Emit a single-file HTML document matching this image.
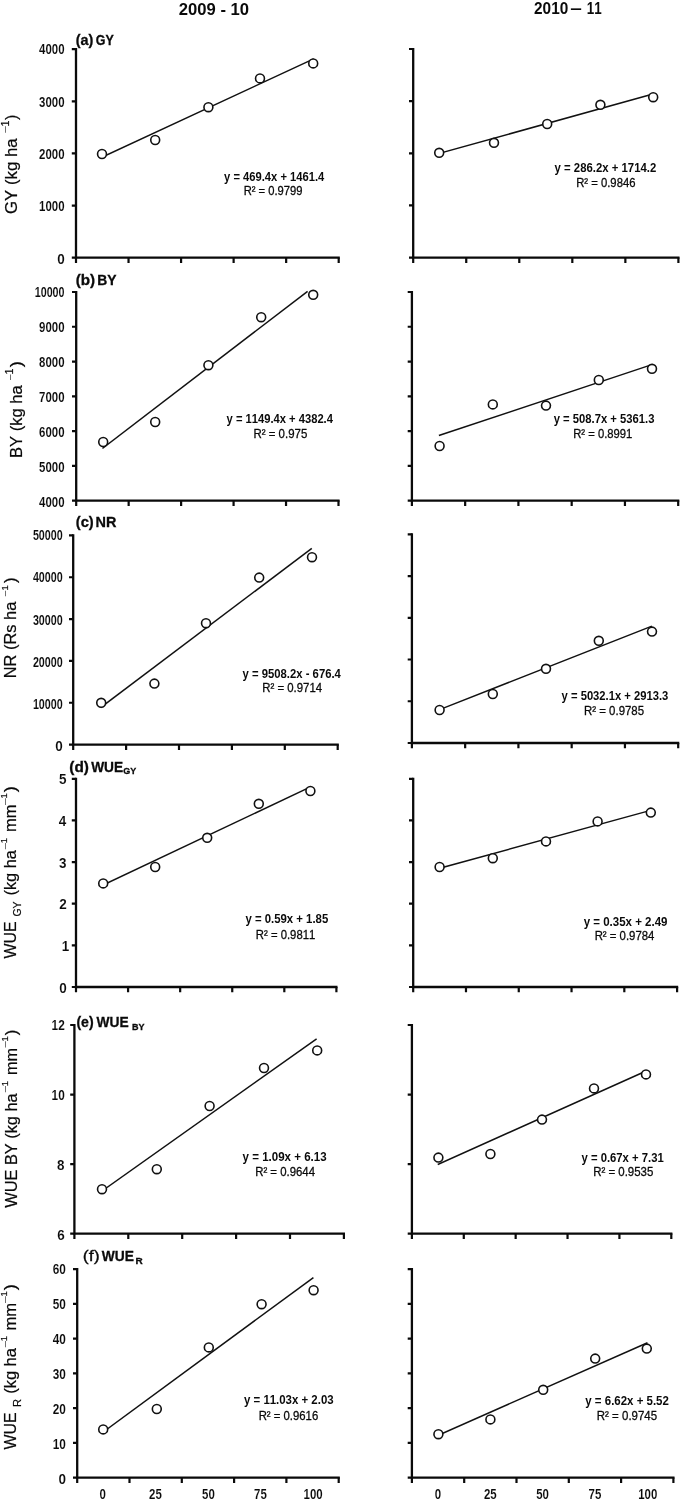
<!DOCTYPE html>
<html lang="en"><head><meta charset="utf-8"><title>Regression of yield and water use efficiency, 2009-10 and 2010-11</title>
<style>html,body{margin:0;padding:0;background:#fff}svg{display:block;filter:blur(0.45px)}text{font-family:"Liberation Sans", Arial, sans-serif;fill:#0a0a0a;font-kerning:none}.ax{stroke:#0a0a0a;stroke-width:2.3;fill:none}.tk{stroke:#0a0a0a;stroke-width:2.2;fill:none}.rl{stroke:#111;stroke-width:1.5;fill:none;stroke-linecap:square}.pt{stroke:#111;stroke-width:1.6;fill:#fff}.tl{font-size:14.2px;font-weight:700;stroke:#fff;stroke-width:0.1px}.e1{font-size:13px;font-weight:700}.e2{font-size:13px;font-weight:400;stroke:#0a0a0a;stroke-width:0.3px}.pl{font-size:14px;font-weight:700;stroke:#0a0a0a;stroke-width:0.3px}.yl{font-weight:400;stroke:#0a0a0a;stroke-width:0.2px}.hd{font-size:16.5px;font-weight:700}</style></head><body>
<svg width="680" height="1499" viewBox="0 0 680 1499">
<rect width="680" height="1499" fill="#fff"/>
<text class="hd" x="178.82" y="14.7" textLength="70.27" lengthAdjust="spacingAndGlyphs">2009 - 10</text>
<text class="hd"><tspan x="534.06" y="14.2" textLength="34.17" lengthAdjust="spacingAndGlyphs">2010</tspan> <tspan x="570.38" y="14.2" textLength="11.57" lengthAdjust="spacingAndGlyphs">–</tspan> <tspan x="586.76" y="14.2" textLength="14.92" lengthAdjust="spacingAndGlyphs">11</tspan></text>
<g>
<path class="ax" d="M76 48.1 V257.7 H339.8"/>
<path class="tk" d="M71.8 257.7H76M71.8 205.57H76M71.8 153.45H76M71.8 101.32H76M71.8 49.2H76M76 257.7V263M128.54 257.7V263M181.08 257.7V263M233.62 257.7V263M286.16 257.7V263M338.7 257.7V263"/>
<text class="tl" x="57.15" y="263.85" textLength="7.5" lengthAdjust="spacingAndGlyphs">0</text>
<text class="tl" x="39.11" y="211.42" textLength="25.46" lengthAdjust="spacingAndGlyphs">1000</text>
<text class="tl" x="39.11" y="159" textLength="25.46" lengthAdjust="spacingAndGlyphs">2000</text>
<text class="tl" x="39.11" y="106.57" textLength="25.46" lengthAdjust="spacingAndGlyphs">3000</text>
<text class="tl" x="39.11" y="54.15" textLength="25.46" lengthAdjust="spacingAndGlyphs">4000</text>
<path class="rl" d="M102.5 157L313 59.2"/>
<circle class="pt" cx="102" cy="154" r="4.45"/>
<circle class="pt" cx="155.2" cy="140" r="4.45"/>
<circle class="pt" cx="208.4" cy="107.2" r="4.45"/>
<circle class="pt" cx="260" cy="78.4" r="4.45"/>
<circle class="pt" cx="313.2" cy="63.4" r="4.45"/>
<text class="e1" x="224.12" y="180.5" textLength="100.15" lengthAdjust="spacingAndGlyphs">y = 469.4x + 1461.4</text>
<text class="e2" x="243.68" y="195.2" textLength="58.84" lengthAdjust="spacingAndGlyphs">R² = 0.9799</text>
</g>
<g>
<path class="ax" d="M413.2 47.9 V257.6 H679.5"/>
<path class="tk" d="M409 257.6H413.2M409 205.45H413.2M409 153.3H413.2M409 101.15H413.2M409 49H413.2M413.2 257.6V262.9M466.24 257.6V262.9M519.28 257.6V262.9M572.32 257.6V262.9M625.36 257.6V262.9M678.4 257.6V262.9"/>
<path class="rl" d="M439.2 153.4L653.2 94"/>
<circle class="pt" cx="439.2" cy="152.8" r="4.45"/>
<circle class="pt" cx="494" cy="142.8" r="4.45"/>
<circle class="pt" cx="547.2" cy="124" r="4.45"/>
<circle class="pt" cx="600.4" cy="104.8" r="4.45"/>
<circle class="pt" cx="653.2" cy="97.2" r="4.45"/>
<text class="e1" x="554.61" y="171.5" textLength="101.65" lengthAdjust="spacingAndGlyphs">y = 286.2x + 1714.2</text>
<text class="e2" x="576.17" y="186.7" textLength="59.32" lengthAdjust="spacingAndGlyphs">R² = 0.9846</text>
</g>
<g>
<path class="ax" d="M76.2 290.9 V500.6 H339.6"/>
<path class="tk" d="M72 500.6H76.2M72 465.83H76.2M72 431.07H76.2M72 396.3H76.2M72 361.53H76.2M72 326.77H76.2M72 292H76.2M76.2 500.6V505.9M128.66 500.6V505.9M181.12 500.6V505.9M233.58 500.6V505.9M286.04 500.6V505.9M338.5 500.6V505.9"/>
<text class="tl" x="39.11" y="506.75" textLength="25.46" lengthAdjust="spacingAndGlyphs">4000</text>
<text class="tl" x="39.11" y="471.78" textLength="25.46" lengthAdjust="spacingAndGlyphs">5000</text>
<text class="tl" x="39.11" y="436.82" textLength="25.46" lengthAdjust="spacingAndGlyphs">6000</text>
<text class="tl" x="39.11" y="401.85" textLength="25.46" lengthAdjust="spacingAndGlyphs">7000</text>
<text class="tl" x="39.11" y="366.88" textLength="25.46" lengthAdjust="spacingAndGlyphs">8000</text>
<text class="tl" x="39.11" y="331.92" textLength="25.46" lengthAdjust="spacingAndGlyphs">9000</text>
<text class="tl" x="34.69" y="296.95" textLength="29.85" lengthAdjust="spacingAndGlyphs">10000</text>
<path class="rl" d="M103 448L307 291.8"/>
<circle class="pt" cx="103.2" cy="442" r="4.45"/>
<circle class="pt" cx="155.2" cy="422" r="4.45"/>
<circle class="pt" cx="208.4" cy="365.2" r="4.45"/>
<circle class="pt" cx="261.2" cy="317.2" r="4.45"/>
<circle class="pt" cx="313.2" cy="294.8" r="4.45"/>
<text class="e1" x="226.62" y="422.6" textLength="106.35" lengthAdjust="spacingAndGlyphs">y = 1149.4x + 4382.4</text>
<text class="e2" x="253.45" y="437.9" textLength="53.82" lengthAdjust="spacingAndGlyphs">R² = 0.975</text>
</g>
<g>
<path class="ax" d="M411.9 290.9 V500.6 H679.3"/>
<path class="tk" d="M407.7 500.6H411.9M407.7 465.83H411.9M407.7 431.07H411.9M407.7 396.3H411.9M407.7 361.53H411.9M407.7 326.77H411.9M407.7 292H411.9M411.9 500.6V505.9M465.16 500.6V505.9M518.42 500.6V505.9M571.68 500.6V505.9M624.94 500.6V505.9M678.2 500.6V505.9"/>
<path class="rl" d="M439.6 435.3L652 364.6"/>
<circle class="pt" cx="439.6" cy="446" r="4.45"/>
<circle class="pt" cx="492.8" cy="404.4" r="4.45"/>
<circle class="pt" cx="546" cy="405.6" r="4.45"/>
<circle class="pt" cx="598.8" cy="380" r="4.45"/>
<circle class="pt" cx="652" cy="368.8" r="4.45"/>
<text class="e1" x="553.72" y="422.9" textLength="100.69" lengthAdjust="spacingAndGlyphs">y = 508.7x + 5361.3</text>
<text class="e2" x="573.17" y="437.9" textLength="59.18" lengthAdjust="spacingAndGlyphs">R² = 0.8991</text>
</g>
<g>
<path class="ax" d="M73.2 534.3 V744.6 H338.8"/>
<path class="tk" d="M69 744.6H73.2M69 702.76H73.2M69 660.92H73.2M69 619.08H73.2M69 577.24H73.2M69 535.4H73.2M73.2 744.6V749.9M126.1 744.6V749.9M179 744.6V749.9M231.9 744.6V749.9M284.8 744.6V749.9M337.7 744.6V749.9"/>
<text class="tl" x="55.35" y="750.75" textLength="7.5" lengthAdjust="spacingAndGlyphs">0</text>
<text class="tl" x="32.89" y="708.67" textLength="29.85" lengthAdjust="spacingAndGlyphs">10000</text>
<text class="tl" x="32.89" y="666.59" textLength="29.85" lengthAdjust="spacingAndGlyphs">20000</text>
<text class="tl" x="32.89" y="624.51" textLength="29.85" lengthAdjust="spacingAndGlyphs">30000</text>
<text class="tl" x="32.89" y="582.43" textLength="29.85" lengthAdjust="spacingAndGlyphs">40000</text>
<text class="tl" x="32.89" y="540.35" textLength="29.85" lengthAdjust="spacingAndGlyphs">50000</text>
<path class="rl" d="M101.2 707.2L311.2 548.8"/>
<circle class="pt" cx="101.2" cy="702.8" r="4.45"/>
<circle class="pt" cx="154.4" cy="683.6" r="4.45"/>
<circle class="pt" cx="206" cy="623.2" r="4.45"/>
<circle class="pt" cx="259.2" cy="577.6" r="4.45"/>
<circle class="pt" cx="312" cy="557.2" r="4.45"/>
<text class="e1" x="242.62" y="677.6" textLength="98.25" lengthAdjust="spacingAndGlyphs">y = 9508.2x - 676.4</text>
<text class="e2" x="262.26" y="692.4" textLength="59.87" lengthAdjust="spacingAndGlyphs">R² = 0.9714</text>
</g>
<g>
<path class="ax" d="M411.9 533.2 V743 H679.3"/>
<path class="tk" d="M407.7 743H411.9M407.7 701.26H411.9M407.7 659.52H411.9M407.7 617.78H411.9M407.7 576.04H411.9M407.7 534.3H411.9M411.9 743V748.3M465.16 743V748.3M518.42 743V748.3M571.68 743V748.3M624.94 743V748.3M678.2 743V748.3"/>
<path class="rl" d="M439.6 709.6L651.2 626.4"/>
<circle class="pt" cx="439.6" cy="710" r="4.45"/>
<circle class="pt" cx="492.8" cy="694" r="4.45"/>
<circle class="pt" cx="546" cy="668.8" r="4.45"/>
<circle class="pt" cx="598.8" cy="640.8" r="4.45"/>
<circle class="pt" cx="652" cy="631.6" r="4.45"/>
<text class="e1" x="561.62" y="700.3" textLength="106.69" lengthAdjust="spacingAndGlyphs">y = 5032.1x + 2913.3</text>
<text class="e2" x="584.06" y="714.9" textLength="60.01" lengthAdjust="spacingAndGlyphs">R² = 0.9785</text>
</g>
<g>
<path class="ax" d="M76 777.7 V987 H337.5"/>
<path class="tk" d="M71.8 987H76M71.8 945.36H76M71.8 903.72H76M71.8 862.08H76M71.8 820.44H76M71.8 778.8H76M76 987V992.3M128.08 987V992.3M180.16 987V992.3M232.24 987V992.3M284.32 987V992.3M336.4 987V992.3"/>
<text class="tl" x="59.15" y="993.15" textLength="7.5" lengthAdjust="spacingAndGlyphs">0</text>
<text class="tl" x="61.72" y="951.27" textLength="7.5" lengthAdjust="spacingAndGlyphs">1</text>
<text class="tl" x="59.15" y="909.39" textLength="7.5" lengthAdjust="spacingAndGlyphs">2</text>
<text class="tl" x="59.09" y="867.51" textLength="7.5" lengthAdjust="spacingAndGlyphs">3</text>
<text class="tl" x="58.68" y="825.63" textLength="7.5" lengthAdjust="spacingAndGlyphs">4</text>
<text class="tl" x="58.98" y="783.75" textLength="7.5" lengthAdjust="spacingAndGlyphs">5</text>
<path class="rl" d="M103.2 885L310.4 787"/>
<circle class="pt" cx="103.2" cy="883.4" r="4.45"/>
<circle class="pt" cx="155.2" cy="867" r="4.45"/>
<circle class="pt" cx="207.2" cy="837.8" r="4.45"/>
<circle class="pt" cx="258.8" cy="803.8" r="4.45"/>
<circle class="pt" cx="310.4" cy="791" r="4.45"/>
<text class="e1" x="245.41" y="922.9" textLength="82.81" lengthAdjust="spacingAndGlyphs">y = 0.59x + 1.85</text>
<text class="e2" x="255.87" y="938.5" textLength="59.38" lengthAdjust="spacingAndGlyphs">R² = 0.9811</text>
</g>
<g>
<path class="ax" d="M413.2 777.7 V987 H678.2"/>
<path class="tk" d="M409 987H413.2M409 945.36H413.2M409 903.72H413.2M409 862.08H413.2M409 820.44H413.2M409 778.8H413.2M413.2 987V992.3M465.98 987V992.3M518.76 987V992.3M571.54 987V992.3M624.32 987V992.3M677.1 987V992.3"/>
<path class="rl" d="M439.6 868.3L650.8 810.3"/>
<circle class="pt" cx="439.6" cy="867" r="4.45"/>
<circle class="pt" cx="492.8" cy="858.2" r="4.45"/>
<circle class="pt" cx="546" cy="841.4" r="4.45"/>
<circle class="pt" cx="597.6" cy="821.4" r="4.45"/>
<circle class="pt" cx="650.8" cy="812.6" r="4.45"/>
<text class="e1" x="583.71" y="925.6" textLength="83.8" lengthAdjust="spacingAndGlyphs">y = 0.35x + 2.49</text>
<text class="e2" x="594.66" y="940" textLength="59.76" lengthAdjust="spacingAndGlyphs">R² = 0.9784</text>
</g>
<g>
<path class="ax" d="M74.4 1023.9 V1233.6 H345"/>
<path class="tk" d="M70.2 1233.6H74.4M70.2 1164.07H74.4M70.2 1094.53H74.4M70.2 1025H74.4M74.4 1233.6V1238.9M128.3 1233.6V1238.9M182.2 1233.6V1238.9M236.1 1233.6V1238.9M290 1233.6V1238.9M343.9 1233.6V1238.9"/>
<text class="tl" x="57.19" y="1239.75" textLength="7.5" lengthAdjust="spacingAndGlyphs">6</text>
<text class="tl" x="57.12" y="1169.82" textLength="7.5" lengthAdjust="spacingAndGlyphs">8</text>
<text class="tl" x="51.58" y="1099.88" textLength="13.11" lengthAdjust="spacingAndGlyphs">10</text>
<text class="tl" x="51.58" y="1029.95" textLength="13.11" lengthAdjust="spacingAndGlyphs">12</text>
<path class="rl" d="M102 1191L316 1039.2"/>
<circle class="pt" cx="102" cy="1189.2" r="4.45"/>
<circle class="pt" cx="156.8" cy="1169.2" r="4.45"/>
<circle class="pt" cx="209.6" cy="1106" r="4.45"/>
<circle class="pt" cx="264" cy="1068" r="4.45"/>
<circle class="pt" cx="317.2" cy="1050.4" r="4.45"/>
<text class="e1" x="242.61" y="1161.2" textLength="84" lengthAdjust="spacingAndGlyphs">y = 1.09x + 6.13</text>
<text class="e2" x="255.16" y="1176.2" textLength="59.87" lengthAdjust="spacingAndGlyphs">R² = 0.9644</text>
</g>
<g>
<path class="ax" d="M411.9 1023.9 V1233.6 H672.4"/>
<path class="tk" d="M407.7 1233.6H411.9M407.7 1164.07H411.9M407.7 1094.53H411.9M407.7 1025H411.9M411.9 1233.6V1238.9M463.78 1233.6V1238.9M515.66 1233.6V1238.9M567.54 1233.6V1238.9M619.42 1233.6V1238.9M671.3 1233.6V1238.9"/>
<path class="rl" d="M438.4 1164.2L646 1071"/>
<circle class="pt" cx="438.4" cy="1157.6" r="4.45"/>
<circle class="pt" cx="490.4" cy="1154" r="4.45"/>
<circle class="pt" cx="542" cy="1119.6" r="4.45"/>
<circle class="pt" cx="594" cy="1088.4" r="4.45"/>
<circle class="pt" cx="646" cy="1074.4" r="4.45"/>
<text class="e1" x="581.52" y="1161.6" textLength="82.21" lengthAdjust="spacingAndGlyphs">y = 0.67x + 7.31</text>
<text class="e2" x="593.15" y="1176.4" textLength="60.22" lengthAdjust="spacingAndGlyphs">R² = 0.9535</text>
</g>
<g>
<path class="ax" d="M77.2 1268 V1477.6 H339.8"/>
<path class="tk" d="M73 1477.6H77.2M73 1442.85H77.2M73 1408.1H77.2M73 1373.35H77.2M73 1338.6H77.2M73 1303.85H77.2M73 1269.1H77.2M77.2 1477.6V1482.9M129.5 1477.6V1482.9M181.8 1477.6V1482.9M234.1 1477.6V1482.9M286.4 1477.6V1482.9M338.7 1477.6V1482.9"/>
<text class="tl" x="58.45" y="1483.75" textLength="7.5" lengthAdjust="spacingAndGlyphs">0</text>
<text class="tl" x="52.78" y="1448.8" textLength="13.11" lengthAdjust="spacingAndGlyphs">10</text>
<text class="tl" x="52.78" y="1413.85" textLength="13.11" lengthAdjust="spacingAndGlyphs">20</text>
<text class="tl" x="52.78" y="1378.9" textLength="13.11" lengthAdjust="spacingAndGlyphs">30</text>
<text class="tl" x="52.78" y="1343.95" textLength="13.11" lengthAdjust="spacingAndGlyphs">40</text>
<text class="tl" x="52.78" y="1309" textLength="13.11" lengthAdjust="spacingAndGlyphs">50</text>
<text class="tl" x="52.78" y="1274.05" textLength="13.11" lengthAdjust="spacingAndGlyphs">60</text>
<path class="rl" d="M103.2 1432L312.8 1278"/>
<circle class="pt" cx="103.2" cy="1429.4" r="4.45"/>
<circle class="pt" cx="156.8" cy="1409" r="4.45"/>
<circle class="pt" cx="208.8" cy="1347.4" r="4.45"/>
<circle class="pt" cx="261.6" cy="1304.2" r="4.45"/>
<circle class="pt" cx="313.6" cy="1290.2" r="4.45"/>
<text class="e1" x="244.01" y="1404.4" textLength="89.6" lengthAdjust="spacingAndGlyphs">y = 11.03x + 2.03</text>
<text class="e2" x="258.67" y="1419.7" textLength="59.53" lengthAdjust="spacingAndGlyphs">R² = 0.9616</text>
</g>
<g>
<path class="ax" d="M411.9 1268 V1477.6 H674.5"/>
<path class="tk" d="M407.7 1477.6H411.9M407.7 1442.85H411.9M407.7 1408.1H411.9M407.7 1373.35H411.9M407.7 1338.6H411.9M407.7 1303.85H411.9M407.7 1269.1H411.9M411.9 1477.6V1482.9M464.2 1477.6V1482.9M516.5 1477.6V1482.9M568.8 1477.6V1482.9M621.1 1477.6V1482.9M673.4 1477.6V1482.9"/>
<path class="rl" d="M438.4 1435.2L646.8 1343"/>
<circle class="pt" cx="438.4" cy="1434.2" r="4.45"/>
<circle class="pt" cx="490.4" cy="1419.4" r="4.45"/>
<circle class="pt" cx="543.2" cy="1389.8" r="4.45"/>
<circle class="pt" cx="595.2" cy="1358.6" r="4.45"/>
<circle class="pt" cx="646.8" cy="1348.6" r="4.45"/>
<text class="e1" x="585.31" y="1405" textLength="83.56" lengthAdjust="spacingAndGlyphs">y = 6.62x + 5.52</text>
<text class="e2" x="596.85" y="1419.6" textLength="60.22" lengthAdjust="spacingAndGlyphs">R² = 0.9745</text>
</g>
<text class="tl" x="99.52" y="1498.6" textLength="6.37" lengthAdjust="spacingAndGlyphs">0</text>
<text class="tl" x="149.1" y="1498.6" textLength="12.73" lengthAdjust="spacingAndGlyphs">25</text>
<text class="tl" x="202.08" y="1498.6" textLength="12.73" lengthAdjust="spacingAndGlyphs">50</text>
<text class="tl" x="254.06" y="1498.6" textLength="12.73" lengthAdjust="spacingAndGlyphs">75</text>
<text class="tl" x="303.53" y="1498.6" textLength="19.1" lengthAdjust="spacingAndGlyphs">100</text>
<text class="tl" x="434.82" y="1498.6" textLength="6.37" lengthAdjust="spacingAndGlyphs">0</text>
<text class="tl" x="483.9" y="1498.6" textLength="12.73" lengthAdjust="spacingAndGlyphs">25</text>
<text class="tl" x="536.18" y="1498.6" textLength="12.73" lengthAdjust="spacingAndGlyphs">50</text>
<text class="tl" x="588.56" y="1498.6" textLength="12.73" lengthAdjust="spacingAndGlyphs">75</text>
<text class="tl" x="638.23" y="1498.6" textLength="19.1" lengthAdjust="spacingAndGlyphs">100</text>
<text class="pl"><tspan x="75.78" y="44.5" textLength="17.65" lengthAdjust="spacingAndGlyphs" style="font-size:14.8px">(a)</tspan> <tspan x="95.7" y="44.5" textLength="18.01" lengthAdjust="spacingAndGlyphs" style="font-size:14.8px">GY</tspan></text>
<text class="pl"><tspan x="75.74" y="285.1" textLength="19.43" lengthAdjust="spacingAndGlyphs" style="font-size:14.8px">(b)</tspan> <tspan x="97.16" y="285.1" textLength="19.27" lengthAdjust="spacingAndGlyphs" style="font-size:14.8px">BY</tspan></text>
<text class="pl"><tspan x="75.76" y="526.5" textLength="17.98" lengthAdjust="spacingAndGlyphs" style="font-size:14.8px">(c)</tspan> <tspan x="95.62" y="526.5" textLength="20.9" lengthAdjust="spacingAndGlyphs" style="font-size:14.8px">NR</tspan></text>
<text class="pl"><tspan x="69.33" y="771.9" textLength="19.65" lengthAdjust="spacingAndGlyphs" style="font-size:14.8px">(d)</tspan> <tspan x="91.17" y="771.9" textLength="31.98" lengthAdjust="spacingAndGlyphs" style="font-size:14.8px">WUE</tspan> <tspan x="123.14" y="773.8" textLength="13.01" lengthAdjust="spacingAndGlyphs" style="font-size:9.5px">GY</tspan></text>
<text class="pl"><tspan x="76.4" y="1026.9" textLength="17.22" lengthAdjust="spacingAndGlyphs" style="font-size:14.8px">(e)</tspan> <tspan x="96.57" y="1026.9" textLength="32.18" lengthAdjust="spacingAndGlyphs" style="font-size:14.8px">WUE</tspan> <tspan x="131.99" y="1029.9" textLength="12.56" lengthAdjust="spacingAndGlyphs" style="font-size:9px">BY</tspan></text>
<text class="pl"><tspan x="82.68" y="1260.9" textLength="16.95" lengthAdjust="spacingAndGlyphs" style="font-size:14.8px;font-weight:400">(f)</tspan> <tspan x="101.77" y="1260.9" textLength="32.18" lengthAdjust="spacingAndGlyphs" style="font-size:14.8px">WUE</tspan> <tspan x="135.63" y="1263.8" textLength="7.19" lengthAdjust="spacingAndGlyphs" style="font-size:9px">R</tspan></text>
<text class="yl" transform="rotate(-90)"><tspan x="-214.04" y="17.2" style="font-size:16.5px" textLength="75.66" lengthAdjust="spacingAndGlyphs">GY (kg ha</tspan> <tspan x="-132.7" y="8.3" style="font-size:10.8px;stroke:none;fill:#444" textLength="6.41" lengthAdjust="spacingAndGlyphs">–</tspan><tspan x="-126.51" y="9" style="font-size:10.8px">1</tspan> <tspan x="-120.02" y="17.2" style="font-size:16.5px" textLength="5.33" lengthAdjust="spacingAndGlyphs">)</tspan></text>
<text class="yl" transform="rotate(-90)"><tspan x="-457.96" y="21.6" style="font-size:16.5px" textLength="72.58" lengthAdjust="spacingAndGlyphs">BY (kg ha</tspan> <tspan x="-379.9" y="13.1" style="font-size:10.8px;stroke:none;fill:#444" textLength="5.51" lengthAdjust="spacingAndGlyphs">–</tspan><tspan x="-374.61" y="13.2" style="font-size:10.8px">1</tspan> <tspan x="-367.24" y="21.6" style="font-size:16.5px" textLength="6.09" lengthAdjust="spacingAndGlyphs">)</tspan></text>
<text class="yl" transform="rotate(-90)"><tspan x="-678.25" y="16" style="font-size:16.5px" textLength="76.57" lengthAdjust="spacingAndGlyphs">NR (Rs ha</tspan> <tspan x="-596.2" y="7.6" style="font-size:10.8px;stroke:none;fill:#444" textLength="5.51" lengthAdjust="spacingAndGlyphs">–</tspan><tspan x="-590.49" y="7.5" style="font-size:9.5px">1</tspan> <tspan x="-583.13" y="16" style="font-size:16.5px" textLength="5.58" lengthAdjust="spacingAndGlyphs">)</tspan></text>
<text class="yl" transform="rotate(-90)"><tspan x="-958.38" y="16.3" style="font-size:16.5px" textLength="37.05" lengthAdjust="spacingAndGlyphs">WUE</tspan> <tspan x="-916.62" y="21.4" style="font-size:10px" textLength="15.05" lengthAdjust="spacingAndGlyphs">GY</tspan> <tspan x="-895.52" y="16.3" style="font-size:16.5px" textLength="45.44" lengthAdjust="spacingAndGlyphs">(kg ha</tspan> <tspan x="-849.3" y="7.8" style="font-size:10.8px;stroke:none;fill:#444" textLength="6.21" lengthAdjust="spacingAndGlyphs">–</tspan><tspan x="-843.29" y="7.4" style="font-size:9.5px">1</tspan> <tspan x="-832.11" y="16.3" style="font-size:16.5px" textLength="27.5" lengthAdjust="spacingAndGlyphs">mm</tspan> <tspan x="-805" y="7.8" style="font-size:10.8px;stroke:none;fill:#444" textLength="6.71" lengthAdjust="spacingAndGlyphs">–</tspan><tspan x="-798.49" y="7.4" style="font-size:9.5px">1</tspan> <tspan x="-792.24" y="16.3" style="font-size:16.5px" textLength="6.09" lengthAdjust="spacingAndGlyphs">)</tspan></text>
<text class="yl" transform="rotate(-90)"><tspan x="-1207.78" y="16.8" style="font-size:16.5px" textLength="114.4" lengthAdjust="spacingAndGlyphs">WUE BY (kg ha</tspan> <tspan x="-1092.3" y="7.9" style="font-size:10.8px;stroke:none;fill:#444" textLength="6.31" lengthAdjust="spacingAndGlyphs">–</tspan><tspan x="-1086.19" y="8.1" style="font-size:9.5px">1</tspan> <tspan x="-1075" y="16.8" style="font-size:16.5px" textLength="27.06" lengthAdjust="spacingAndGlyphs">mm</tspan> <tspan x="-1047.5" y="7.9" style="font-size:10.8px;stroke:none;fill:#444" textLength="6.21" lengthAdjust="spacingAndGlyphs">–</tspan><tspan x="-1041.39" y="8.1" style="font-size:9.5px">1</tspan> <tspan x="-1035.13" y="16.8" style="font-size:16.5px" textLength="5.58" lengthAdjust="spacingAndGlyphs">)</tspan></text>
<text class="yl" transform="rotate(-90)"><tspan x="-1449.38" y="16.3" style="font-size:16.5px" textLength="37.05" lengthAdjust="spacingAndGlyphs">WUE</tspan> <tspan x="-1406.92" y="21.4" style="font-size:10px" textLength="8.04" lengthAdjust="spacingAndGlyphs">R</tspan> <tspan x="-1393.83" y="16.3" style="font-size:16.5px" textLength="45.75" lengthAdjust="spacingAndGlyphs">(kg ha</tspan> <tspan x="-1347.3" y="7.8" style="font-size:10.8px;stroke:none;fill:#444" textLength="6.21" lengthAdjust="spacingAndGlyphs">–</tspan><tspan x="-1341.29" y="7.4" style="font-size:9.5px">1</tspan> <tspan x="-1330.52" y="16.3" style="font-size:16.5px" textLength="27.6" lengthAdjust="spacingAndGlyphs">mm</tspan> <tspan x="-1303" y="7.8" style="font-size:10.8px;stroke:none;fill:#444" textLength="6.71" lengthAdjust="spacingAndGlyphs">–</tspan><tspan x="-1296.49" y="7.4" style="font-size:9.5px">1</tspan> <tspan x="-1290.24" y="16.3" style="font-size:16.5px" textLength="6.09" lengthAdjust="spacingAndGlyphs">)</tspan></text>
</svg></body></html>
